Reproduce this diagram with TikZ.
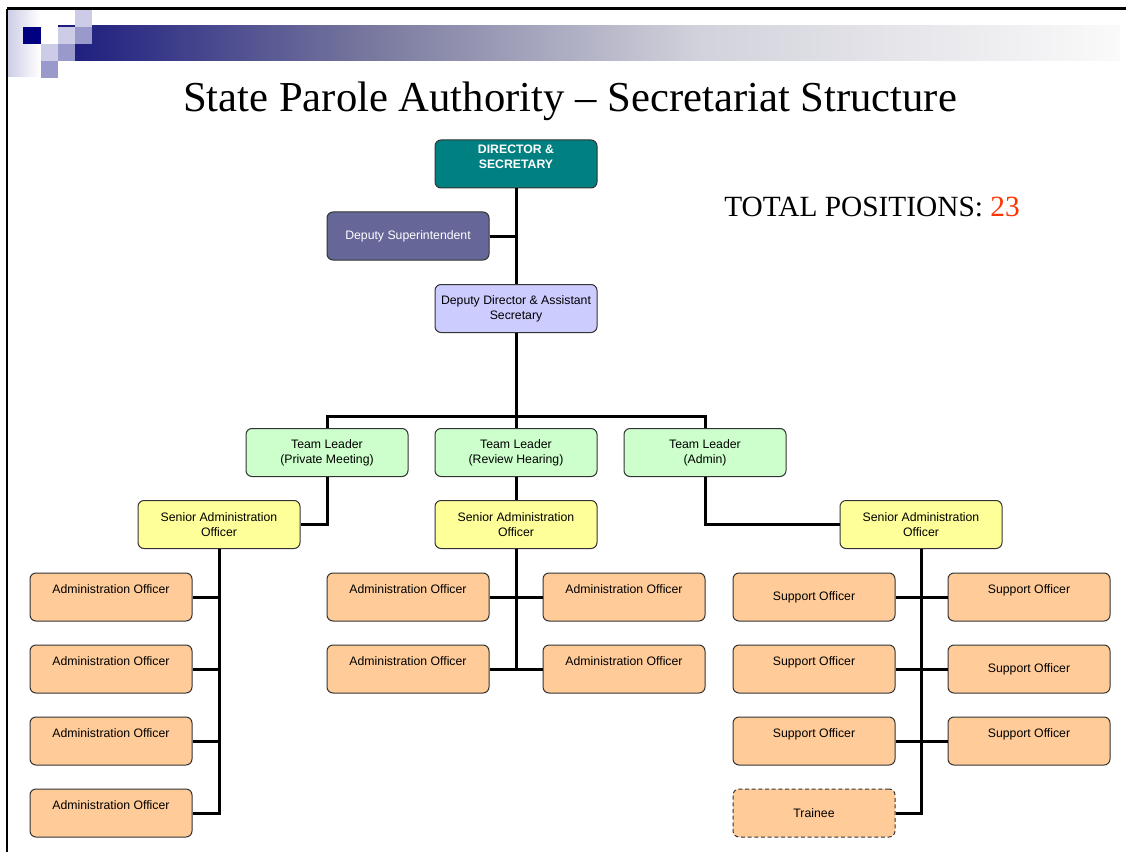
\documentclass[tikz,border=0pt]{standalone}
\usepackage{fontspec}
\setmainfont{Liberation Serif}
\setsansfont{Liberation Sans}
\usetikzlibrary{positioning}
\definecolor{navy}{HTML}{000080}
\definecolor{bar0}{HTML}{1A1A7E}
\definecolor{bar1}{HTML}{7B7BA0}
\definecolor{bar2}{HTML}{D2D2DC}
\definecolor{bar3}{HTML}{FAFAFA}
\definecolor{sqlight}{HTML}{CCCCE6}
\definecolor{sqmid}{HTML}{9999CC}
\definecolor{dircol}{HTML}{008080}
\definecolor{supcol}{HTML}{666699}
\definecolor{ddcol}{HTML}{CCCCFF}
\definecolor{tlcol}{HTML}{CCFFCC}
\definecolor{saocol}{HTML}{FFFF99}
\definecolor{aocol}{HTML}{FFCC99}
\definecolor{edgecol}{HTML}{333333}
\definecolor{totred}{HTML}{FF3300}
\tikzset{
  box/.style={draw=edgecol, line width=0.75pt, rounded corners=4.5pt,
    minimum width=121.5pt, minimum height=36pt, inner sep=0pt, align=center,
    font=\sffamily\fontsize{9.2}{11.25}\selectfont},
  dirbox/.style={box, fill=dircol, text=white, font=\sffamily\bfseries\fontsize{9.2}{11.25}\selectfont},
  supbox/.style={box, fill=supcol, text=white},
  ddbox/.style={box, fill=ddcol},
  tlbox/.style={box, fill=tlcol},
  saobox/.style={box, fill=saocol},
  aobox/.style={box, fill=aocol},
  trbox/.style={aobox, dashed, dash pattern=on 3pt off 2pt},
  link/.style={line width=2.25pt},
}
\begin{document}
\begin{tikzpicture}[x=0.75pt,y=-0.75pt]
\useasboundingbox (0,0) rectangle (1126,852);
% banner
\shade[left color=sqlight, right color=white] (7,10) rectangle (40,77);
\shade[left color=bar0, right color=bar1] (58,26) rectangle (380,61);
\shade[left color=bar1, right color=bar2] (380,26) rectangle (700,61);
\shade[left color=bar2, right color=bar3] (700,26) rectangle (1120,61);
\fill[navy] (23,27) rectangle (41,44);
\foreach \x/\y in {41/44, 58/27, 75/10} {
  \fill[sqlight] (\x,\y) rectangle ++(17,17);
  \fill[sqmid] (\x,\y+17) rectangle ++(17,17);
}
\draw[line width=2.25pt] (7,9) -- (1126,9);
\draw[line width=1.5pt] (7,9) -- (7,852);
% titles
\node[anchor=base, font=\fontsize{32}{36}\selectfont] (title) at (570,112)
  {State Parole Authority -- Secretariat Structure};
\node[anchor=base, font=\fontsize{22}{26}\selectfont] (total) at (872,217)
  {TOTAL POSITIONS: \textcolor{totred}{23}};
% top
\node[dirbox] (dir) at (516,164) {DIRECTOR \&\\SECRETARY\\~};
\node[supbox] (sup) at (408,236) {Deputy Superintendent};
\node[ddbox] (dd) at (516,308.5) {Deputy Director \& Assistant\\Secretary};
% team leaders
\node[tlbox] (tl1) at (327,452.5) {Team Leader\\(Private Meeting)};
\node[tlbox] (tl2) at (516,452.5) {Team Leader\\(Review Hearing)};
\node[tlbox] (tl3) at (705,452.5) {Team Leader\\(Admin)};
% senior admin
\node[saobox] (sao1) at (219,524.5) {Senior Administration\\Officer};
\node[saobox] (sao2) at (516,524.5) {Senior Administration\\Officer};
\node[saobox] (sao3) at (921,524.5) {Senior Administration\\Officer};
% admin officers
\foreach \i/\y in {1/597, 2/669, 3/741, 4/813}
  \node[aobox] (adl\i) at (111,\y) {Administration Officer\\~};
\foreach \i/\y in {1/597, 2/669} {
  \node[aobox] (arl\i) at (408,\y) {Administration Officer\\~};
  \node[aobox] (arr\i) at (624,\y) {Administration Officer\\~};
}
% support officers
\node[aobox] (spl1) at (814,597) {Support Officer};
\node[aobox] (spl2) at (814,669) {Support Officer\\~};
\node[aobox] (spl3) at (814,741) {Support Officer\\~};
\node[aobox] (spr1) at (1029,597) {Support Officer\\~};
\node[aobox] (spr2) at (1029,669) {Support Officer};
\node[aobox] (spr3) at (1029,741) {Support Officer\\~};
\node[trbox] (trainee) at (814,813) {Trainee};
% connectors
\coordinate (bus) at (516,416);
\draw[link] (dir) -- (dd);
\draw[link] (sup.east) -- (sup.east -| dir.south);
\draw[link] (dd.south) -- (bus);
\draw[link] (tl1.north) |- (bus) -| (tl3.north);
\draw[link] (bus) -- (tl2.north);
\draw[link] (tl1.south) |- (sao1.east);
\draw[link] (tl2.south) -- (sao2.north);
\draw[link] (tl3.south) |- (sao3.west);
\draw[link] (sao1.south) |- (adl4.east);
\foreach \i in {1,2,3}
  \draw[link] (adl\i.east) -- (adl\i.east -| sao1.south);
\draw[link] (sao2.south) -- (sao2.south |- arl2.east);
\foreach \i in {1,2}
  \draw[link] (arl\i.east) -- (arr\i.west);
\draw[link] (sao3.south) |- (trainee.east);
\foreach \i in {1,2,3}
  \draw[link] (spl\i.east) -- (spr\i.west);
\end{tikzpicture}
\end{document}
